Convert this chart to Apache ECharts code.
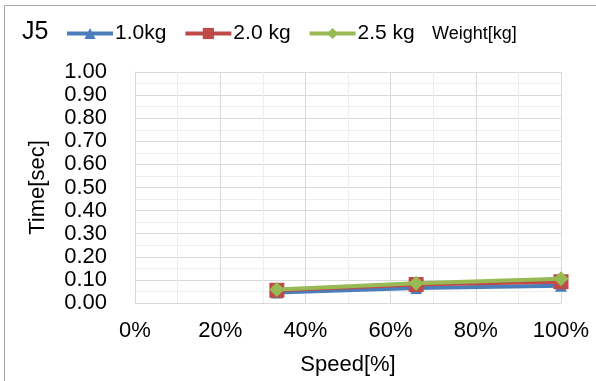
<!DOCTYPE html>
<html><head><meta charset="utf-8">
<script src="https://cdn.jsdelivr.net/npm/echarts@6/dist/echarts.min.js"></script>
<style>html,body{margin:0;padding:0;background:#fff}#c{width:596px;height:381px}</style>
</head><body><div id="c"></div>
<script>
const speeds = [33.3, 66.0, 100];
const w10 = [0.045, 0.065, 0.075];
const w20 = [0.055, 0.080, 0.092];
const w25 = [0.058, 0.085, 0.105];
const seriesNames = ['1.0kg', '2.0 kg', '2.5 kg'];
const colors = ['#4a7ebb', '#be4b48', '#98b954'];
const symbols = ['triangle', 'rect', 'diamond'];
const symSizes = [12, 15, 15];
const F = 'Liberation Sans, Arial, sans-serif';
const chart = echarts.init(document.getElementById('c'));
const vals = [w10, w20, w25];
chart.setOption({
  animation: false,
  textStyle: {fontFamily: F},
  grid: {left: 135, right: 35, top: 72, bottom: 78, containLabel: false},
  graphic: [
    {type: 'rect', shape: {x: 4.5, y: 5.5, width: 700, height: 500}, style: {fill: 'none', stroke: '#a6a6a6', lineWidth: 1}},
    {type: 'text', left: 22, top: 20, style: {text: 'J5', font: '25px ' + F, fill: '#000'}},
    {type: 'text', left: 432, top: 25, style: {text: 'Weight[kg]', font: '18px ' + F, fill: '#000'}}
  ],
  legend: {
    left: 65, top: 23, padding: 0, itemWidth: 46, itemHeight: 14, itemGap: 17,
    textStyle: {fontSize: 21, fontFamily: F, color: '#000', padding: [0, 0, 0, -3]},
    lineStyle: {width: 4},
    data: seriesNames
  },
  xAxis: {
    type: 'value', min: 0, max: 100, interval: 20,
    name: 'Speed[%]', nameLocation: 'middle', nameGap: 51,
    nameTextStyle: {fontSize: 22, color: '#000', fontFamily: F},
    axisLabel: {formatter: '{value}%', fontSize: 22, color: '#000', margin: 17},
    axisLine: {show: true, lineStyle: {color: '#d9d9d9', width: 1}},
    axisTick: {show: false},
    splitLine: {show: true, lineStyle: {color: '#d9d9d9', width: 1}},
    minorTick: {show: false, splitNumber: 2},
    minorSplitLine: {show: true, lineStyle: {color: '#eeeeee', width: 1}}
  },
  yAxis: {
    type: 'value', min: 0, max: 1, interval: 0.1,
    name: 'Time[sec]', nameLocation: 'middle', nameGap: 86, nameRotate: 90,
    nameTextStyle: {fontSize: 22, color: '#000', fontFamily: F},
    axisLabel: {formatter: v => v.toFixed(2), fontSize: 22, color: '#000', margin: 28, lineHeight: 22},
    axisLine: {show: true, lineStyle: {color: '#d9d9d9', width: 1}},
    axisTick: {show: false},
    splitLine: {show: true, lineStyle: {color: '#d9d9d9', width: 1}},
    minorTick: {show: false, splitNumber: 2},
    minorSplitLine: {show: true, lineStyle: {color: '#eeeeee', width: 1}}
  },
  series: vals.map((v, i) => ({
    name: seriesNames[i], type: 'line',
    data: speeds.map((s, j) => [s, v[j]]),
    symbol: symbols[i], symbolSize: symSizes[i], showAllSymbol: true,
    itemStyle: {color: colors[i]},
    lineStyle: {color: colors[i], width: 4},
    clip: false, z: 2 + i
  }))
});
</script></body></html>
